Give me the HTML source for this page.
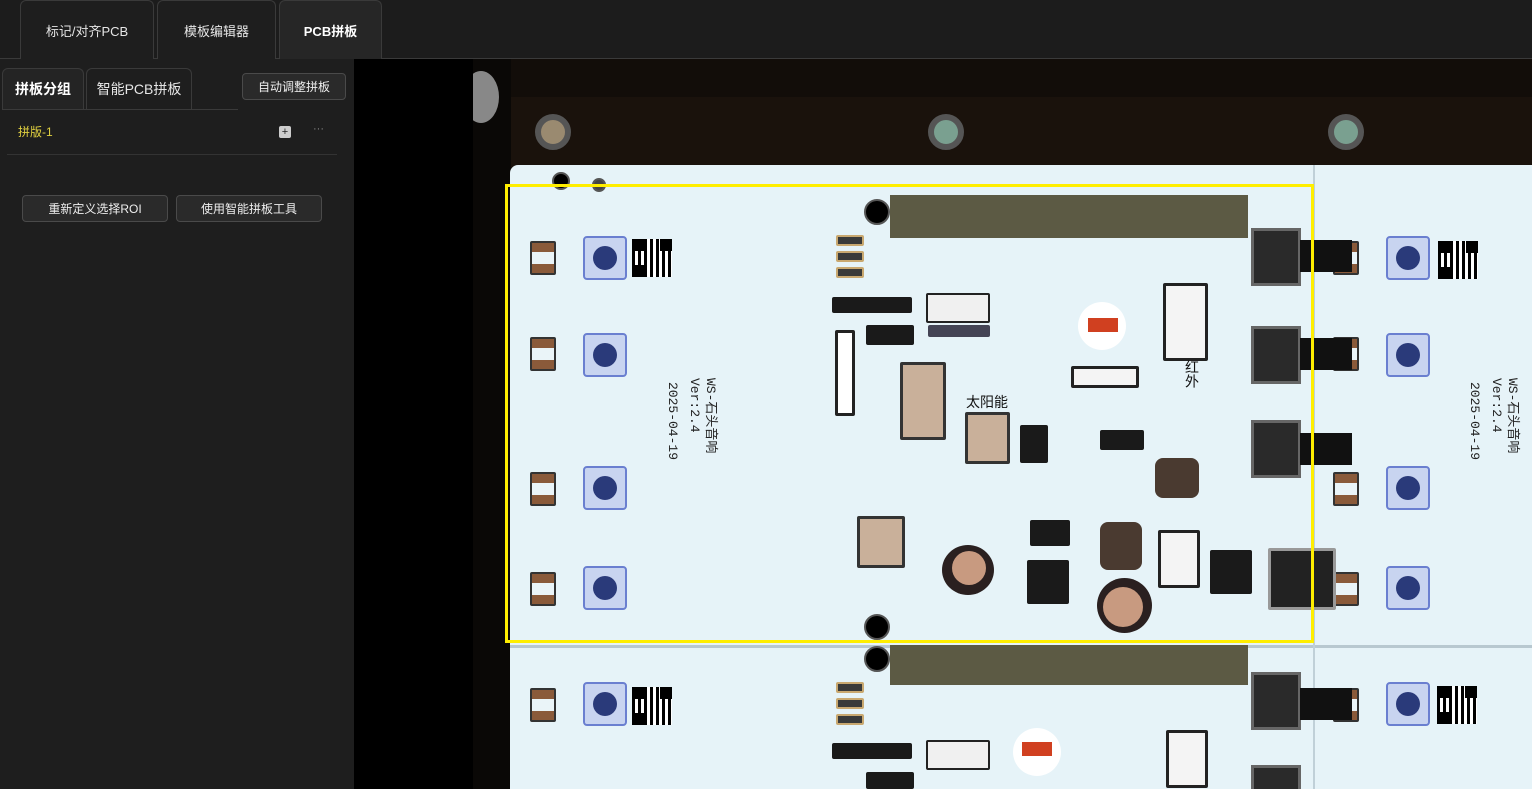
<!DOCTYPE html>
<html style="overflow:hidden"><head><meta charset="utf-8"><style>
*{margin:0;padding:0;box-sizing:border-box}
html,body{width:1532px;height:789px;overflow:hidden}
body{background:#1c1c1c;font-family:"Liberation Sans","Noto Sans CJK SC",sans-serif;position:relative}
.a{position:absolute}
.tab{position:absolute;top:0;height:59px;border:1px solid #3a3a3a;border-bottom:none;border-radius:6px 6px 0 0;background:#1e1e1e;color:#e6e6e6;font-size:13px;display:flex;align-items:center;justify-content:center}
.btn{position:absolute;height:27px;border:1px solid #4a4a4a;border-radius:4px;background:#2a2a2a;color:#eee;font-size:12px;display:flex;align-items:center;justify-content:center}
#pcb{position:absolute;left:0;top:0;width:1532px;height:789px;overflow:hidden;pointer-events:none}
.led{position:absolute;width:44px;height:44px;background:#c8d4f0;border:2px solid #6a7fd0;border-radius:4px}
.led::after{content:"";position:absolute;left:8px;top:8px;width:24px;height:24px;border-radius:50%;background:#2a3a7a}
.qr{position:absolute;width:40px;height:38px;background:
 linear-gradient(#000,#000) 0 0/12px 12px no-repeat,
 linear-gradient(#000,#000) 28px 0/12px 12px no-repeat,
 linear-gradient(#000,#000) 0 26px/12px 12px no-repeat,
 repeating-linear-gradient(90deg,#000 0 3px,#fff 3px 6px),#fff;}
.pad{position:absolute;width:26px;height:34px;border:2px solid #333;border-radius:2px;background:linear-gradient(#8a5a3a 0 30%,#eaf4f8 30% 70%,#8a5a3a 70%)}
.res{position:absolute;width:28px;height:11px;background:#3a3a3a;border:2px solid #c9a870;border-radius:2px}
.ic{position:absolute;background:#1a1a1a;border-radius:2px}
.hole{position:absolute;width:26px;height:26px;border-radius:50%;background:#000;border:2px solid #555}
.ant{position:absolute;background:#5c5a44}
.conn{position:absolute;width:50px;height:58px;background:#2a2a2a;border:3px solid #666}
.tabk{position:absolute;width:52px;height:32px;background:#111}
.txt{position:absolute;color:#222;font-size:13px;line-height:16px;writing-mode:vertical-rl;text-orientation:sideways;font-family:"Liberation Mono","Noto Sans CJK SC",monospace;white-space:nowrap}
</style></head><body>
<div class="a" style="left:0;top:58px;width:1532px;height:1px;background:#3a3a3a"></div>
<div class="tab" style="left:20px;width:134px">标记/对齐PCB</div>
<div class="tab" style="left:157px;width:119px">模板编辑器</div>
<div class="tab" style="left:279px;width:103px;background:#262626;font-weight:bold;color:#fff">PCB拼板</div>
<div class="a" style="left:0;top:59px;width:354px;height:730px;background:#1e1e1e"></div>
<div class="a" style="left:354px;top:59px;width:119px;height:730px;background:#000"></div>
<div class="tab" style="left:2px;top:68px;height:41px;width:82px;font-weight:bold;color:#fff;font-size:14px;background:#242424">拼板分组</div>
<div class="tab" style="left:86px;top:68px;height:41px;width:106px;font-size:14px">智能PCB拼板</div>
<div class="a" style="left:2px;top:109px;width:236px;height:1px;background:#3a3a3a"></div>
<div class="btn" style="left:242px;top:73px;width:104px">自动调整拼板</div>
<div class="a" style="left:18px;top:123px;color:#e0d040;font-size:12px">拼版-1</div>
<div class="a" style="left:279px;top:126px;width:12px;height:12px;background:#ccc;border-radius:2px;color:#222;font-size:11px;line-height:12px;text-align:center">+</div>
<div class="a" style="left:313px;top:123px;color:#888;font-size:11px">···</div>
<div class="a" style="left:7px;top:154px;width:330px;height:1px;background:#333"></div>
<div class="btn" style="left:22px;top:195px;width:146px">重新定义选择ROI</div>
<div class="btn" style="left:176px;top:195px;width:146px">使用智能拼板工具</div>

<div id="pcb">
<div class="a" style="left:473px;top:59px;width:1059px;height:730px;background:#120d09;overflow:hidden">
 <div class="a" style="left:0;top:0;width:38px;height:730px;background:#0a0806"></div>
 <div class="a" style="left:38px;top:38px;width:1021px;height:70px;background:#1a120c"></div>
 <div class="a" style="left:-10px;top:12px;width:36px;height:52px;border-radius:50%;background:#888"></div>
 <div class="a" style="left:62px;top:55px;width:36px;height:36px;border-radius:50%;background:#9a8a70;border:6px solid #555"></div>
 <div class="a" style="left:455px;top:55px;width:36px;height:36px;border-radius:50%;background:#7aa090;border:6px solid #555"></div>
 <div class="a" style="left:855px;top:55px;width:36px;height:36px;border-radius:50%;background:#7aa090;border:6px solid #555"></div>
 <div class="a" style="left:37px;top:106px;width:1030px;height:640px;background:#e6f3f8;border-radius:8px 0 0 0"></div>
 <div class="a" style="left:37px;top:586px;width:1030px;height:3px;background:#b8c8d0"></div>
 <div class="a" style="left:840px;top:106px;width:2px;height:640px;background:#c0d0d8"></div>
</div>
<div class="hole" style="left:552px;top:172px;width:18px;height:18px"></div>
<div class="hole" style="left:592px;top:178px;width:14px;height:14px;background:#444"></div>
<div class="ant" style="left:890px;top:195px;width:358px;height:43px"></div>
<div class="ant" style="left:890px;top:645px;width:358px;height:40px"></div>
<div class="hole" style="left:864px;top:199px"></div>
<div class="hole" style="left:864px;top:614px"></div>
<div class="hole" style="left:864px;top:646px"></div>
<div class="led" style="left:583px;top:236px"></div><div class="led" style="left:583px;top:333px"></div><div class="led" style="left:583px;top:466px"></div><div class="led" style="left:583px;top:566px"></div><div class="led" style="left:583px;top:682px"></div>
<div class="led" style="left:1386px;top:236px"></div><div class="led" style="left:1386px;top:333px"></div><div class="led" style="left:1386px;top:466px"></div><div class="led" style="left:1386px;top:566px"></div><div class="led" style="left:1386px;top:682px"></div>
<div class="qr" style="left:632px;top:239px"></div><div class="qr" style="left:1438px;top:241px"></div><div class="qr" style="left:632px;top:687px"></div><div class="qr" style="left:1437px;top:686px"></div>
<div class="pad" style="left:530px;top:241px"></div><div class="pad" style="left:530px;top:337px"></div><div class="pad" style="left:530px;top:472px"></div><div class="pad" style="left:530px;top:572px"></div><div class="pad" style="left:530px;top:688px"></div>
<div class="pad" style="left:1333px;top:241px"></div><div class="pad" style="left:1333px;top:337px"></div><div class="pad" style="left:1333px;top:472px"></div><div class="pad" style="left:1333px;top:572px"></div><div class="pad" style="left:1333px;top:688px"></div>
<div class="txt" style="left:664px;top:382px">2025-04-19</div>
<div class="txt" style="left:686px;top:378px">WS-石头音响<br>Ver:2.4</div>
<div class="txt" style="left:1466px;top:382px">2025-04-19</div>
<div class="txt" style="left:1488px;top:378px">WS-石头音响<br>Ver:2.4</div>
<div class="res" style="left:836px;top:235px"></div><div class="res" style="left:836px;top:251px"></div><div class="res" style="left:836px;top:267px"></div>
<div class="res" style="left:836px;top:682px"></div><div class="res" style="left:836px;top:698px"></div><div class="res" style="left:836px;top:714px"></div>
<div class="ic" style="left:832px;top:297px;width:80px;height:16px"></div>
<div class="ic" style="left:866px;top:325px;width:48px;height:20px"></div>
<div class="ic" style="left:835px;top:330px;width:20px;height:86px;background:#fff;border:3px solid #222"></div>
<div class="ic" style="left:926px;top:293px;width:64px;height:30px;background:#f0f0f0;border:2px solid #222"></div>
<div class="ic" style="left:928px;top:325px;width:62px;height:12px;background:#445"></div>
<div class="ic" style="left:900px;top:362px;width:46px;height:78px;background:#c9b09a;border:3px solid #333"></div>
<div class="ic" style="left:965px;top:412px;width:45px;height:52px;background:#c9b09a;border:3px solid #333"></div>
<div class="ic" style="left:857px;top:516px;width:48px;height:52px;background:#c9b09a;border:3px solid #333"></div>
<div class="ic" style="left:1020px;top:425px;width:28px;height:38px"></div>
<div class="ic" style="left:1100px;top:430px;width:44px;height:20px"></div>
<div class="ic" style="left:1155px;top:458px;width:44px;height:40px;background:#4a3a30;border-radius:8px"></div>
<div class="ic" style="left:1100px;top:522px;width:42px;height:48px;background:#4a3a30;border-radius:8px"></div>
<div class="ic" style="left:1030px;top:520px;width:40px;height:26px"></div>
<div class="ic" style="left:1027px;top:560px;width:42px;height:44px"></div>
<div class="ic" style="left:1210px;top:550px;width:42px;height:44px"></div>
<div class="a" style="left:942px;top:545px;width:52px;height:50px;border-radius:50%;background:#2a2020"></div>
<div class="a" style="left:952px;top:551px;width:34px;height:34px;border-radius:50%;background:#c89a80"></div>
<div class="a" style="left:1097px;top:578px;width:55px;height:55px;border-radius:50%;background:#2a2020"></div>
<div class="a" style="left:1103px;top:587px;width:40px;height:40px;border-radius:50%;background:#c89a80"></div>
<div class="a" style="left:1078px;top:302px;width:48px;height:48px;border-radius:50%;background:#fff"></div>
<div class="a" style="left:1088px;top:318px;width:30px;height:14px;background:#d04020"></div>
<div class="a" style="left:1013px;top:728px;width:48px;height:48px;border-radius:50%;background:#fff"></div>
<div class="a" style="left:1022px;top:742px;width:30px;height:14px;background:#d04020"></div>
<div class="ic" style="left:1163px;top:283px;width:45px;height:78px;background:#f4f4f4;border:3px solid #222"></div>
<div class="ic" style="left:1071px;top:366px;width:68px;height:22px;background:#f4f4f4;border:3px solid #222"></div>
<div class="ic" style="left:1158px;top:530px;width:42px;height:58px;background:#f4f4f4;border:3px solid #222"></div>
<div class="ic" style="left:1166px;top:730px;width:42px;height:58px;background:#f4f4f4;border:3px solid #222"></div>
<div class="ic" style="left:926px;top:740px;width:64px;height:30px;background:#f0f0f0;border:2px solid #222"></div>
<div class="ic" style="left:832px;top:743px;width:80px;height:16px"></div>
<div class="ic" style="left:866px;top:772px;width:48px;height:17px"></div>
<div class="a" style="left:966px;top:392px;font-size:14px;color:#111">太阳能</div>
<div class="a" style="left:1182px;top:360px;font-size:14px;color:#111;writing-mode:vertical-rl">红外</div>
<div class="conn" style="left:1251px;top:228px"></div><div class="conn" style="left:1251px;top:326px"></div><div class="conn" style="left:1251px;top:420px"></div><div class="conn" style="left:1251px;top:672px"></div><div class="conn" style="left:1251px;top:765px"></div>
<div class="tabk" style="left:1300px;top:240px"></div><div class="tabk" style="left:1300px;top:338px"></div><div class="tabk" style="left:1300px;top:433px"></div><div class="tabk" style="left:1300px;top:688px"></div>
<div class="ic" style="left:1268px;top:548px;width:68px;height:62px;background:#222;border:3px solid #999"></div>
<div class="a" style="left:505px;top:184px;width:809px;height:459px;border:3px solid #ffee00"></div>
</div>
</body></html>
